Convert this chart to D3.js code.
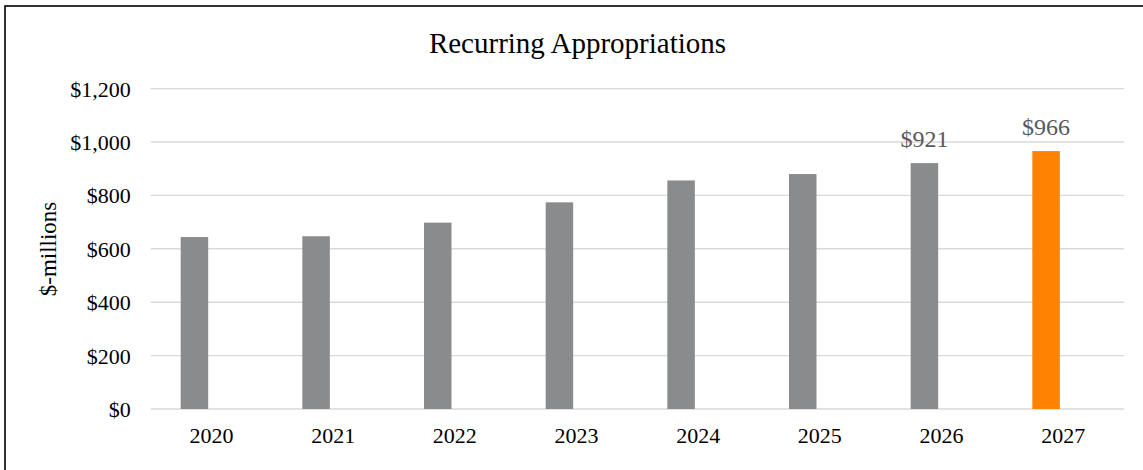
<!DOCTYPE html>
<html>
<head>
<meta charset="utf-8">
<script src="https://cdn.jsdelivr.net/npm/d3@7"></script>
<style>
  html, body { margin: 0; padding: 0; background: #fff; }
  svg { display: block; }
  text { font-family: "Liberation Serif", "Times New Roman", serif; }
</style>
</head>
<body>
<svg id="chart" width="1143" height="470"></svg>
<script>
// Fiscal years and recurring appropriations ($ millions)
const years = ["2020", "2021", "2022", "2023", "2024", "2025", "2026", "2027"];
const amounts = [644, 647, 698, 774, 856, 880, 921, 966];
// Years whose bars carry a value label
const labeledYears = ["2026", "2027"];
const highlightYear = "2027";
const yTicks = [0, 200, 400, 600, 800, 1000, 1200];

const svg = d3.select("#chart");
const W = 1143, H = 470;
const plot = { left: 150.7, right: 1124, top: 88.6, bottom: 409 };

// Outer frame (extends past the right and bottom edges)
svg.append("rect")
  .attr("x", 5).attr("y", 6)
  .attr("width", W + 10).attr("height", H + 10)
  .attr("fill", "none").attr("stroke", "#000").attr("stroke-width", 1.6);

const x = d3.scaleBand().domain(years).range([plot.left, plot.right]).padding(0);
const y = d3.scaleLinear().domain([0, 1200]).range([plot.bottom, plot.top]);

// Horizontal gridlines
svg.append("g").selectAll("line").data(yTicks).join("line")
  .attr("x1", plot.left).attr("x2", plot.right)
  .attr("y1", d => y(d)).attr("y2", d => y(d))
  .attr("stroke", "#d9d9d9").attr("stroke-width", 1.4);

// Y axis tick labels
const yAxis = d3.axisLeft(y).tickValues(yTicks).tickSize(0).tickPadding(20)
  .tickFormat(d => "$" + d3.format(",")(d));
const gy = svg.append("g").attr("transform", `translate(${plot.left},0)`).call(yAxis);
gy.select(".domain").remove();
gy.selectAll("text")
  .attr("font-size", 22).attr("fill", "#000").attr("dy", "0.34em");

// X axis category labels
const xAxis = d3.axisBottom(x).tickSize(0).tickPadding(18);
const gx = svg.append("g").attr("transform", `translate(0,${plot.bottom})`).call(xAxis);
gx.select(".domain").remove();
gx.selectAll("text")
  .attr("font-size", 22).attr("fill", "#000").attr("dy", "0.71em");

const data = years.map((yr, i) => ({ year: yr, value: amounts[i] }));
const barOffset = x.bandwidth() * 0.2465;
const barWidth = x.bandwidth() * 0.226;

// Bars
svg.append("g").selectAll("rect").data(data).join("rect")
  .attr("x", d => x(d.year) + barOffset)
  .attr("y", d => y(d.value))
  .attr("width", barWidth)
  .attr("height", d => y(0) - y(d.value))
  .attr("fill", d => d.year === highlightYear ? "#ff8300" : "#8a8b8c");

// Value labels above selected bars
svg.append("g").selectAll("text")
  .data(data.filter(d => labeledYears.includes(d.year))).join("text")
  .attr("x", d => x(d.year) + barOffset + barWidth / 2)
  .attr("y", d => y(d.value) - 16)
  .attr("text-anchor", "middle")
  .attr("font-size", 24).attr("fill", "#595959")
  .text(d => "$" + d.value);

// Title
svg.append("text")
  .attr("x", 577.5).attr("y", 53)
  .attr("text-anchor", "middle")
  .attr("font-size", 29).attr("fill", "#000")
  .text("Recurring Appropriations");

// Y axis title
svg.append("text")
  .attr("transform", `translate(56,249) rotate(-90)`)
  .attr("text-anchor", "middle")
  .attr("font-size", 23).attr("fill", "#000")
  .text("$-millions");
</script>
</body>
</html>
